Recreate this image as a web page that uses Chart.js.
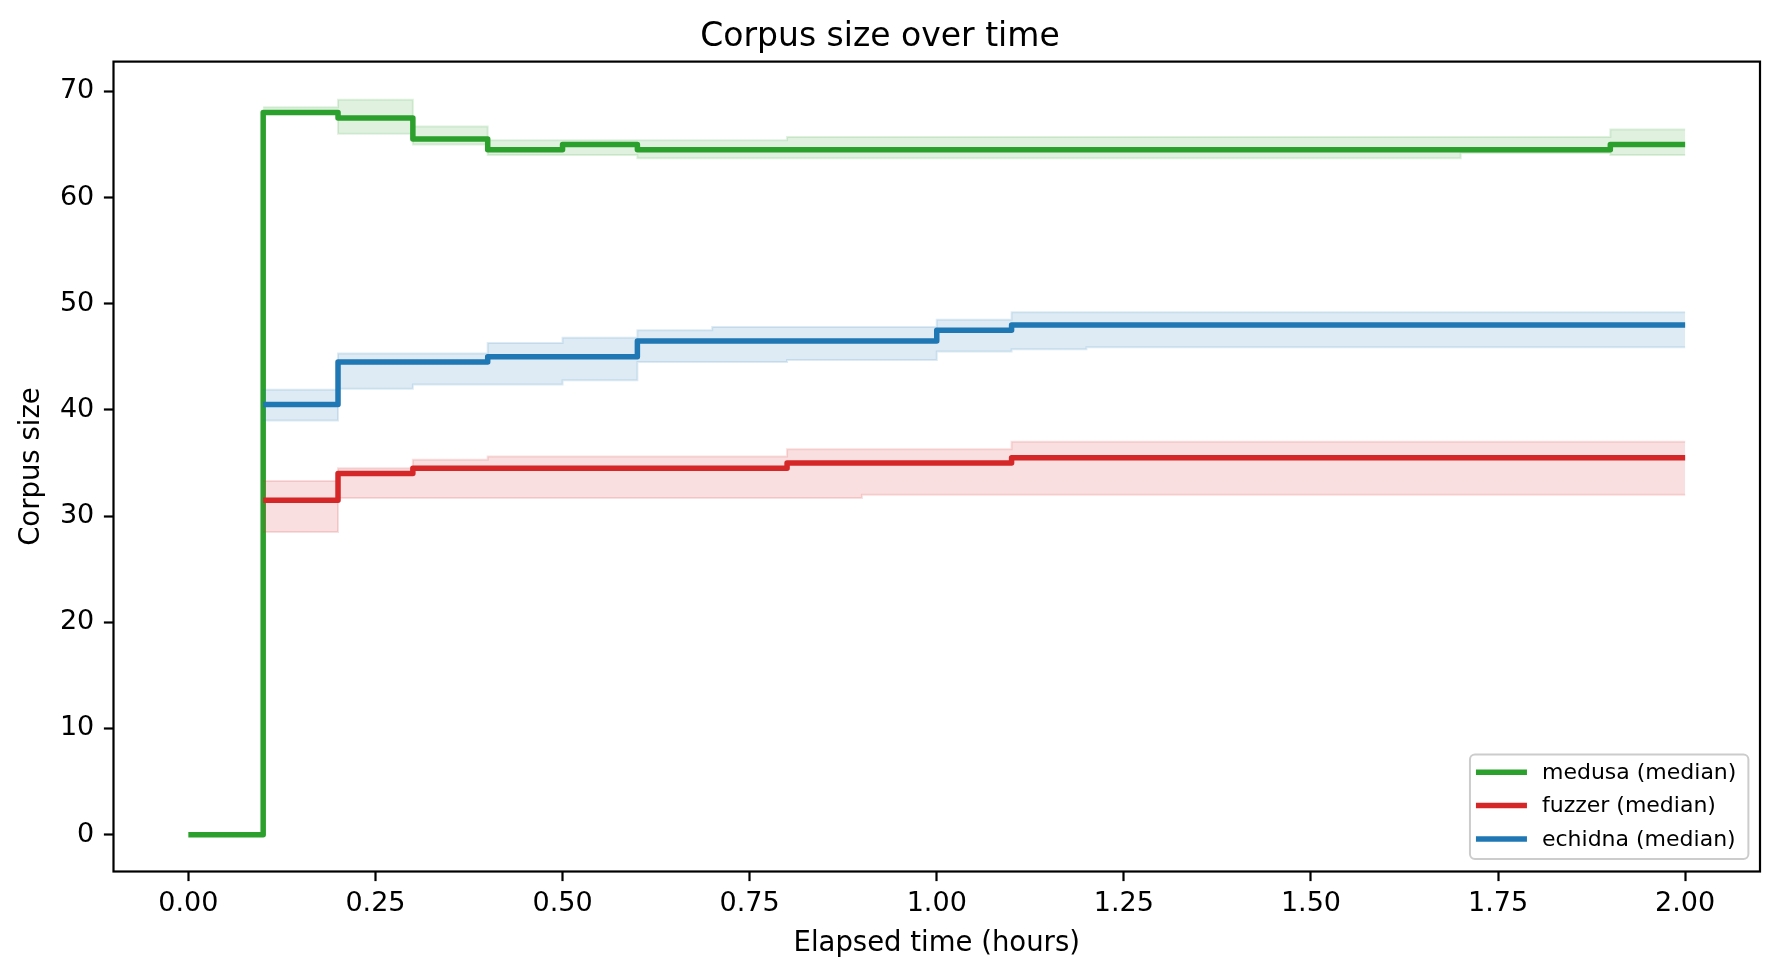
<!DOCTYPE html>
<html>
<head>
<meta charset="utf-8">
<title>Corpus size over time</title>
<script src="https://cdn.jsdelivr.net/npm/chart.js@4.4.1/dist/chart.umd.min.js"></script>
<style>
  html, body { margin: 0; padding: 0; background: #fff; }
  #wrap { width: 1779px; height: 978px; }
</style>
</head>
<body>
<div id="wrap"><canvas id="corpus-chart" width="1779" height="978"></canvas></div>
<script>
// elapsed time in hours, one sample every 0.1 h (each value holds until the next sample)
const times = [0, 0.1, 0.2, 0.3, 0.4, 0.5, 0.6, 0.7, 0.8, 0.9, 1.0, 1.1, 1.2, 1.3, 1.4, 1.5, 1.6, 1.7, 1.8, 1.9, 2.0];
const xTicks = [0, 0.25, 0.5, 0.75, 1.0, 1.25, 1.5, 1.75, 2.0];
const yTicks = [0, 10, 20, 30, 40, 50, 60, 70];

const medusaMedian = [0, 68, 67.5, 65.5, 64.5, 65, 64.5, 64.5, 64.5, 64.5, 64.5, 64.5, 64.5, 64.5, 64.5, 64.5, 64.5, 64.5, 64.5, 65, 65];
const medusaLow = [null, 67.9, 66.0, 65.0, 64.0, 64.0, 63.7, 63.7, 63.7, 63.7, 63.7, 63.7, 63.7, 63.7, 63.7, 63.7, 63.7, 64.2, 64.2, 64.0, 64.0];
const medusaHigh = [null, 68.5, 69.2, 66.7, 65.4, 65.4, 65.4, 65.4, 65.7, 65.7, 65.7, 65.7, 65.7, 65.7, 65.7, 65.7, 65.7, 65.7, 65.7, 66.4, 66.4];

const fuzzerMedian = [null, 31.5, 34, 34.5, 34.5, 34.5, 34.5, 34.5, 35, 35, 35, 35.5, 35.5, 35.5, 35.5, 35.5, 35.5, 35.5, 35.5, 35.5, 35.5];
const fuzzerLow = [null, 28.5, 31.7, 31.7, 31.7, 31.7, 31.7, 31.7, 31.7, 32, 32, 32, 32, 32, 32, 32, 32, 32, 32, 32, 32];
const fuzzerHigh = [null, 33.3, 34.5, 35.3, 35.6, 35.6, 35.6, 35.6, 36.3, 36.3, 36.3, 37, 37, 37, 37, 37, 37, 37, 37, 37, 37];

const echidnaMedian = [null, 40.5, 44.5, 44.5, 45, 45, 46.5, 46.5, 46.5, 46.5, 47.5, 48, 48, 48, 48, 48, 48, 48, 48, 48, 48];
const echidnaLow = [null, 39.0, 42.0, 42.4, 42.4, 42.8, 44.5, 44.5, 44.7, 44.7, 45.5, 45.7, 45.9, 45.9, 45.9, 45.9, 45.9, 45.9, 45.9, 45.9, 45.9];
const echidnaHigh = [null, 41.9, 45.3, 45.3, 46.3, 46.8, 47.5, 47.8, 47.8, 47.8, 48.5, 49.2, 49.2, 49.2, 49.2, 49.2, 49.2, 49.2, 49.2, 49.2, 49.2];

const legendLabels = ['medusa (median)', 'fuzzer (median)', 'echidna (median)'];
const FONT = '"DejaVu Sans", "Liberation Sans", sans-serif';

const GREEN = [44, 160, 44];
const RED = [214, 39, 40];
const BLUE = [31, 119, 180];

function stepPts(values) {
  return times.map((t, i) => ({ x: t, y: values[i] }));
}

function rgba(rgb, a) {
  return `rgba(${rgb[0]},${rgb[1]},${rgb[2]},${a})`;
}

function medianSet(label, values, rgb, order) {
  return {
    label,
    data: stepPts(values),
    borderColor: rgba(rgb, 1),
    borderWidth: 5.5,
    borderJoinStyle: 'round',
    stepped: 'before',
    pointRadius: 0,
    fill: false,
    order,
  };
}

function bandSets(name, low, high, rgb, order, lowIndex) {
  return [
    {
      label: name + ' low',
      data: stepPts(low),
      borderColor: rgba(rgb, 0.15),
      borderWidth: 2,
      stepped: 'before',
      pointRadius: 0,
      fill: false,
      order: order + 1,
    },
    {
      label: name + ' high',
      data: stepPts(high),
      borderColor: rgba(rgb, 0.15),
      backgroundColor: rgba(rgb, 0.15),
      borderWidth: 2,
      stepped: 'before',
      pointRadius: 0,
      fill: { target: lowIndex },
      order,
    },
  ];
}

// dataset indexes: 0 medusa, 1-2 medusa band, 3 fuzzer, 4-5 fuzzer band, 6 echidna, 7-8 echidna band
const datasets = [
  medianSet(legendLabels[0], medusaMedian, GREEN, 6),
  ...bandSets('medusa', medusaLow, medusaHigh, GREEN, 7, 1),
  medianSet(legendLabels[1], fuzzerMedian, RED, 3),
  ...bandSets('fuzzer', fuzzerLow, fuzzerHigh, RED, 4, 4),
  medianSet(legendLabels[2], echidnaMedian, BLUE, 0),
  ...bandSets('echidna', echidnaLow, echidnaHigh, BLUE, 1, 7),
];

const framePlugin = {
  id: 'frame',
  afterDraw(chart) {
    const { ctx, chartArea: a } = chart;
    ctx.save();
    ctx.strokeStyle = '#000';
    ctx.lineWidth = 2.2;
    ctx.strokeRect(a.left, a.top, a.right - a.left, a.bottom - a.top);
    ctx.restore();
  },
};

const boxLegendPlugin = {
  id: 'boxLegend',
  afterDraw(chart) {
    const { ctx, chartArea: a } = chart;
    const colors = [GREEN, RED, BLUE];
    ctx.save();
    ctx.font = '22px ' + FONT;
    const textW = Math.max(...legendLabels.map((l) => ctx.measureText(l).width));
    const w = 6 + 51 + 15 + textW + 12;
    const h = 104.5;
    const right = a.right - 11.6;
    const bottom = a.bottom - 12.5;
    const left = right - w;
    const top = bottom - h;

    ctx.beginPath();
    ctx.roundRect(left, top, w, h, 5);
    ctx.fillStyle = 'rgba(255,255,255,0.8)';
    ctx.fill();
    ctx.strokeStyle = '#cccccc';
    ctx.lineWidth = 2;
    ctx.stroke();

    ctx.textBaseline = 'middle';
    ctx.textAlign = 'left';
    legendLabels.forEach((label, i) => {
      const y = top + 17.8 + i * 33.3;
      ctx.strokeStyle = rgba(colors[i], 1);
      ctx.lineWidth = 5.5;
      ctx.beginPath();
      ctx.moveTo(left + 6, y);
      ctx.lineTo(left + 57, y);
      ctx.stroke();
      ctx.fillStyle = '#000';
      ctx.fillText(label, left + 72, y + 1);
    });
    ctx.restore();
  },
};

new Chart(document.getElementById('corpus-chart'), {
  type: 'line',
  data: { datasets },
  plugins: [framePlugin, boxLegendPlugin],
  options: {
    responsive: false,
    devicePixelRatio: 1,
    animation: false,
    events: [],
    layout: { padding: { left: 0, right: 19, top: 0, bottom: 0 } },
    plugins: {
      legend: { display: false },
      tooltip: { enabled: false },
      title: {
        display: true,
        text: 'Corpus size over time',
        color: '#000',
        font: { family: FONT, size: 33, weight: 'normal' },
        padding: { top: 17.5, bottom: 4.5 },
      },
    },
    scales: {
      x: {
        type: 'linear',
        min: -0.1,
        max: 2.1,
        afterBuildTicks: (s) => { s.ticks = xTicks.map((v) => ({ value: v })); },
        afterFit: (s) => { s.height = 106.5; },
        ticks: {
          color: '#000',
          font: { family: FONT, size: 27 },
          padding: 7,
          maxRotation: 0,
          autoSkip: false,
          callback: (v) => Number(v).toFixed(2),
        },
        grid: { drawOnChartArea: false, tickLength: 9.6, tickColor: '#000', tickWidth: 2.2 },
        border: { display: false },
        title: {
          display: true,
          text: 'Elapsed time (hours)',
          color: '#000',
          font: { family: FONT, size: 27.5 },
          padding: { top: 0, bottom: 17.7 },
        },
      },
      y: {
        type: 'linear',
        min: -3.47,
        max: 72.8,
        afterBuildTicks: (s) => { s.ticks = yTicks.map((v) => ({ value: v })); },
        afterFit: (s) => { s.width = 113.5; },
        ticks: {
          color: '#000',
          font: { family: FONT, size: 27 },
          padding: 9.6,
          autoSkip: false,
          callback: (v) => String(v),
        },
        grid: { drawOnChartArea: false, tickLength: 9.6, tickColor: '#000', tickWidth: 2.2 },
        border: { display: false },
        title: {
          display: true,
          text: 'Corpus size',
          color: '#000',
          font: { family: FONT, size: 27.5 },
          padding: { top: 15, bottom: 0 },
        },
      },
    },
  },
});
</script>
</body>
</html>
